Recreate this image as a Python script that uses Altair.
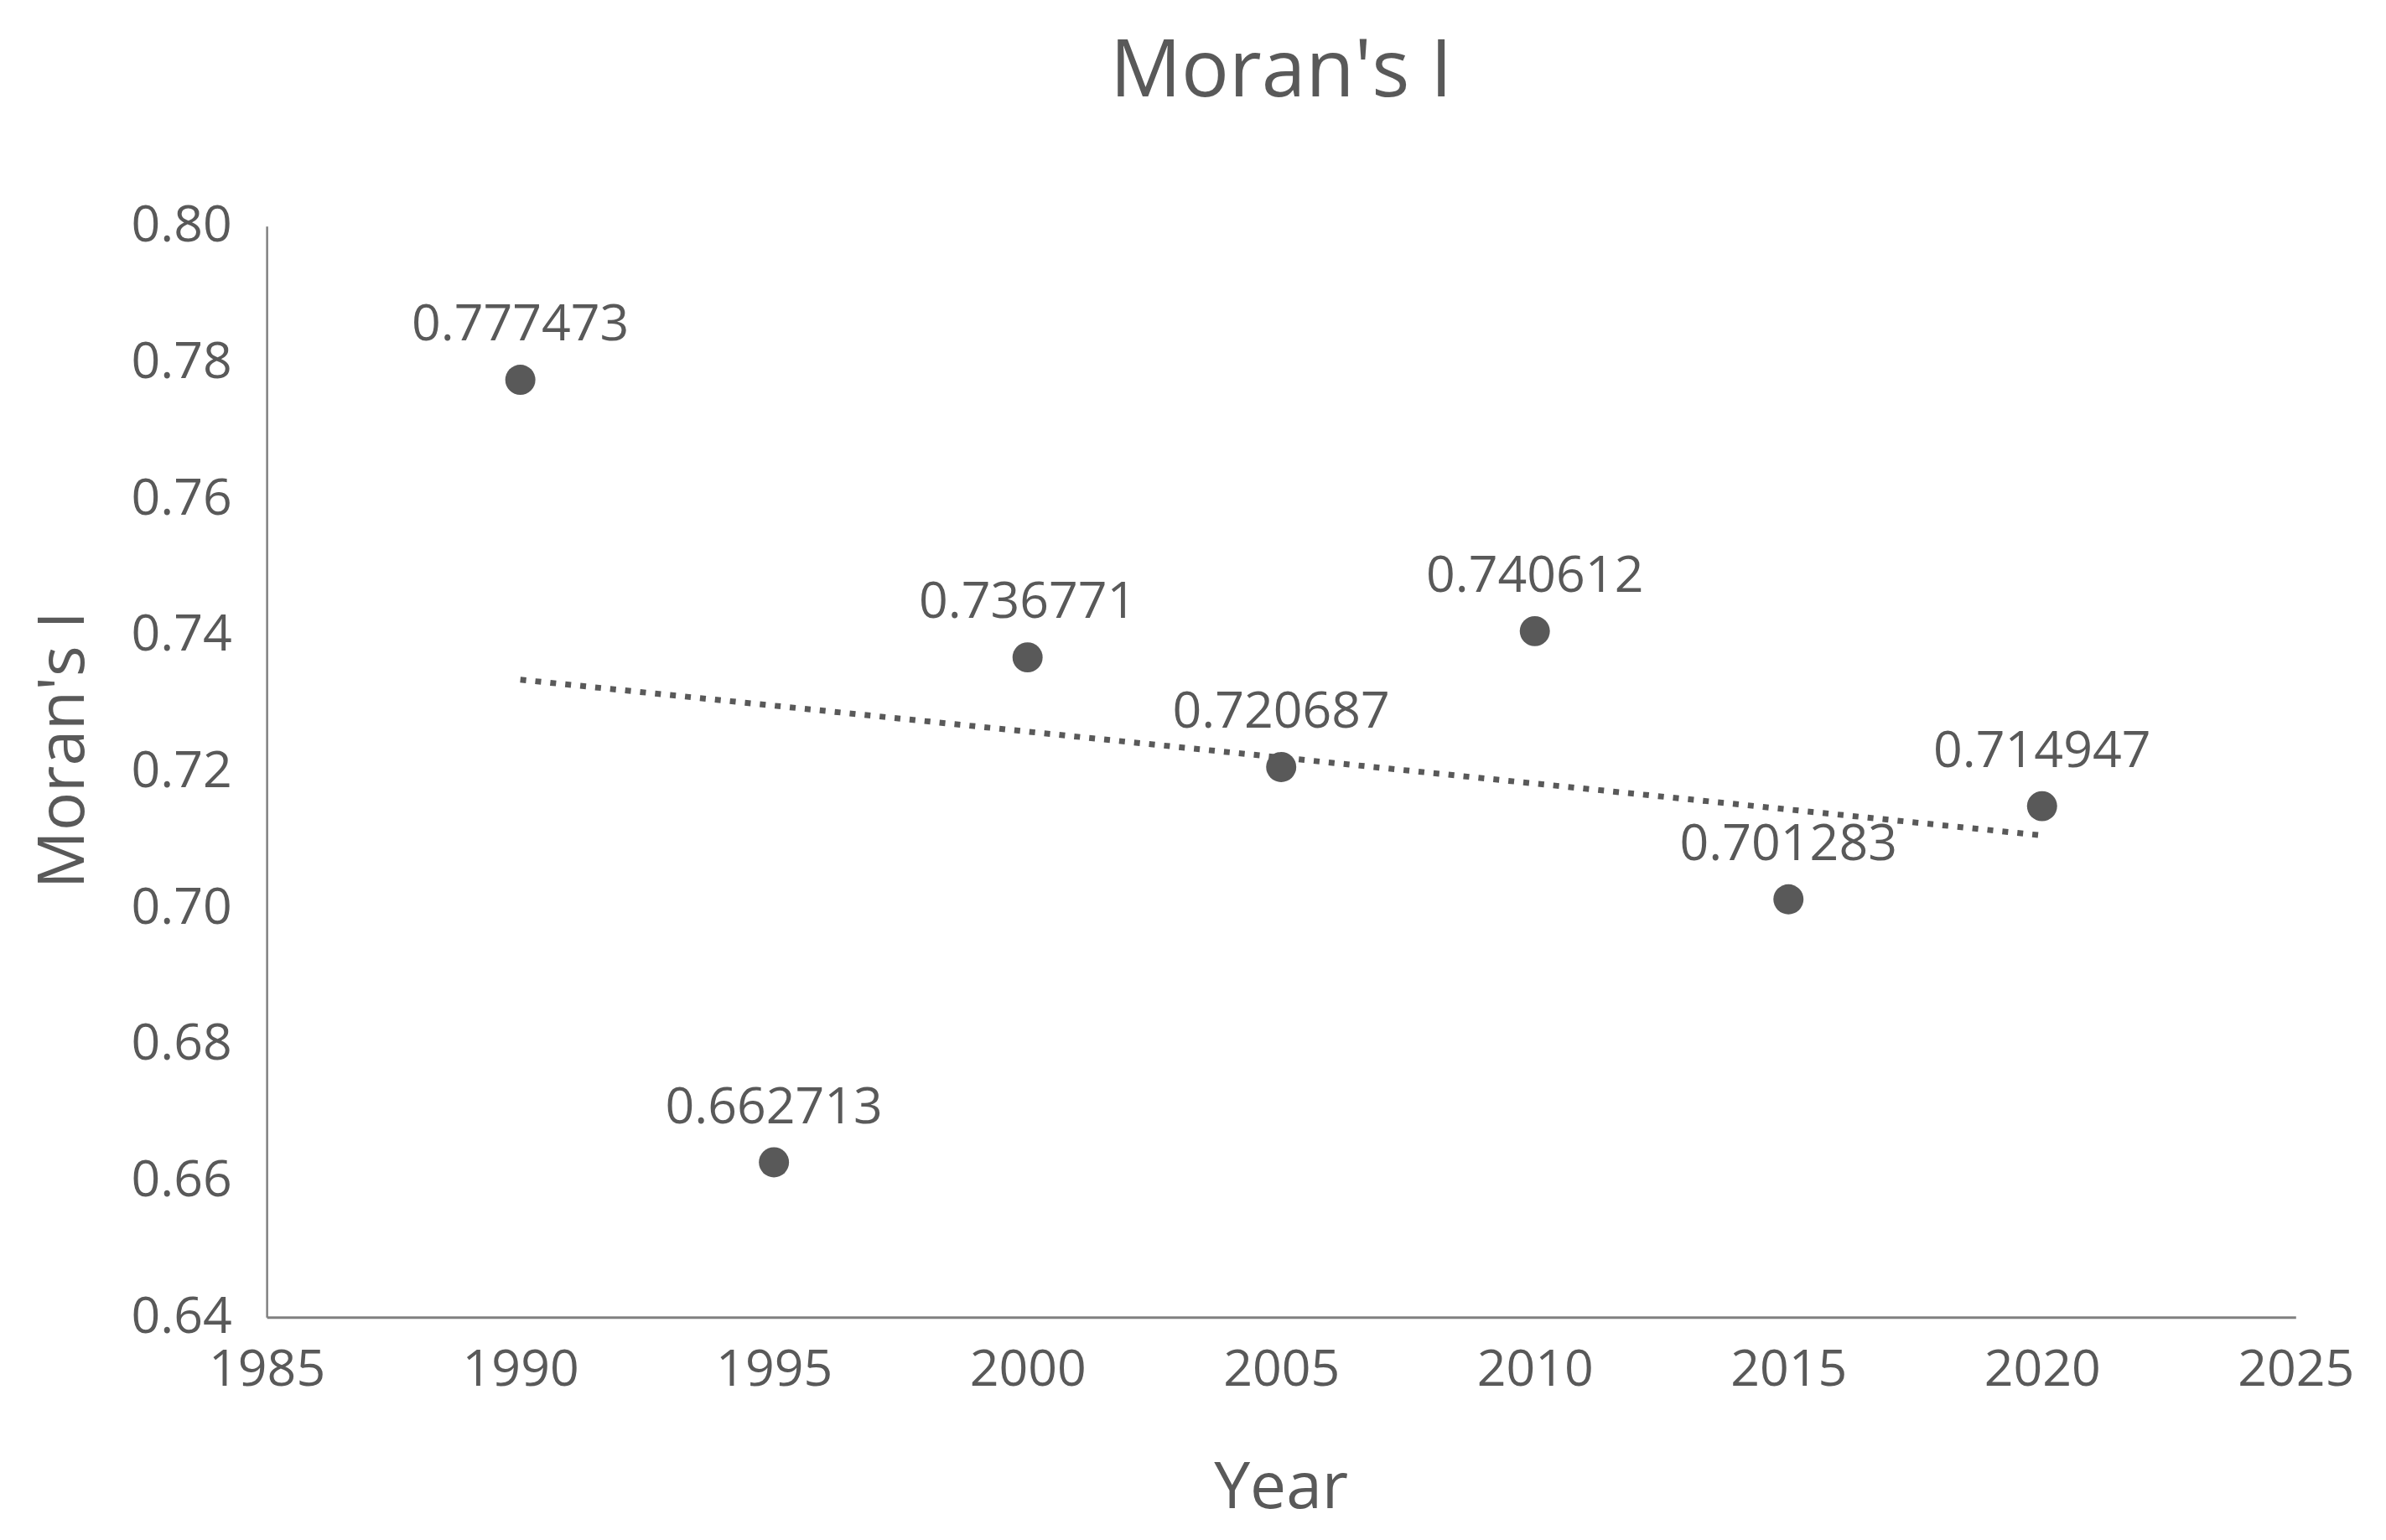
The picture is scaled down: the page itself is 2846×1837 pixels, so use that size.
import altair as alt
import pandas as pd

years = [1990, 1995, 2000, 2005, 2010, 2015, 2020]
morans_i = [0.777473, 0.662713, 0.736771, 0.720687, 0.740612, 0.701283, 0.714947]
labels = ["0.777473", "0.662713", "0.736771", "0.720687", "0.740612", "0.701283", "0.714947"]
x_ticks = [1985, 1990, 1995, 2000, 2005, 2010, 2015, 2020, 2025]
y_ticks = [0.64, 0.66, 0.68, 0.70, 0.72, 0.74, 0.76, 0.78, 0.80]

df = pd.DataFrame({"Year": years, "I": morans_i, "label": labels})

FONT = "Open Sans"
GRAY = "#595959"

x_enc = alt.X("Year:Q", scale=alt.Scale(domain=[1985, 2025], nice=False, zero=False),
              axis=alt.Axis(values=x_ticks, format="d", title="Year", grid=False, ticks=False,
                            domainColor="#808080", domainWidth=3, labelFontSize=61,
                            labelColor=GRAY, labelFont=FONT, labelPadding=34,
                            titleFontSize=77, titleFont=FONT, titleColor=GRAY,
                            titleFontWeight="normal", titleBaseline="middle",
                            titleX=1213, titleY=205, labelFlush=False))
y_enc = alt.Y("I:Q", scale=alt.Scale(domain=[0.64, 0.80], nice=False, zero=False),
              axis=alt.Axis(values=y_ticks, format=".2f", title="Moran's I", grid=False, ticks=False,
                            domainColor="#808080", domainWidth=2.5, labelFontSize=61,
                            labelColor=GRAY, labelFont=FONT, labelPadding=42,
                            titleFontSize=77, titleFont=FONT, titleColor=GRAY,
                            titleFontWeight="normal", titleBaseline="middle",
                            titleX=-242, titleY=626, titleAngle=270, labelFlush=False))

base = alt.Chart(df)

points = base.mark_circle(size=1300, color=GRAY, opacity=1).encode(x=x_enc, y=y_enc)

text = base.mark_text(fontSize=61, font=FONT, color=GRAY, baseline="alphabetic",
                      align="center", dy=-47).encode(x="Year:Q", y="I:Q", text="label:N")

trend = base.transform_regression("Year", "I", method="linear").mark_line(
    color=GRAY, strokeWidth=7, strokeDash=[7, 11]
).encode(x="Year:Q", y="I:Q")

chart = alt.layer(trend, points, text).properties(
    width=2427, height=1305,
    title=alt.TitleParams("Moran's I", fontSize=95, font=FONT, color=GRAY,
                          fontWeight="normal", anchor="middle", offset=0, baseline="middle", dy=-58),
    autosize=alt.AutoSizeParams(type="none"),
    padding={"left": 311, "top": 260, "right": 100, "bottom": 264},
).configure_view(stroke=None)

chart.save("out.html", embed_options={"renderer": "svg", "actions": False})
